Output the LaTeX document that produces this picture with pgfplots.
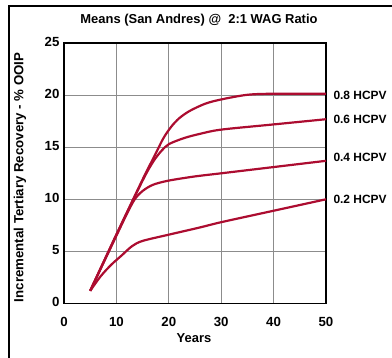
\documentclass[border=0pt]{standalone}
\usepackage{fontspec}
\setmainfont{Liberation Sans}
\usepackage{pgfplots}
\pgfplotsset{compat=1.18}
\definecolor{curve}{RGB}{172,12,48}
\definecolor{gridc}{RGB}{140,140,140}
\begin{document}
\begin{tikzpicture}[font=\fontsize{13}{15}\selectfont\bfseries]
\useasboundingbox (-64bp,-54bp) rectangle (328bp,303.3bp);
\draw[line width=1.2bp] (-55bp,-60bp) -- (-55bp,297.3bp) -- (335bp,297.3bp);
\begin{axis}[
  scale only axis, width=262bp, height=260bp,
  xmin=0, xmax=50, ymin=0, ymax=25,
  xtick={0,10,20,30,40,50}, ytick={0,5,10,15,20,25},
  grid=major, major grid style={gridc, line width=0.8bp},
  major tick length=0pt,
  axis line style={black, line width=1.6bp},
  /pgf/number format/assume math mode=true,
  tick label style={font=\fontsize{13.3}{15}\selectfont\bfseries},
  xticklabel style={anchor=base, yshift=-23bp},
  yticklabel style={anchor=east, xshift=-1bp, yshift=1.5bp},
  clip=false,
]
\addplot[curve, line width=2.2bp, smooth] coordinates {
 (5,1.2) (7,2.6) (9,3.7) (11,4.6) (13,5.5) (15,6.0) (20,6.6) (26,7.3) (30,7.8) (40,8.9) (50,10.0)};
\addplot[curve, line width=2.2bp, smooth] coordinates {
 (5,1.2) (10,6.5) (12,8.6) (13.5,10) (15,10.8) (17,11.4) (20,11.8) (25,12.2) (30,12.5) (40,13.1) (50,13.7)};
\addplot[curve, line width=2.2bp, smooth] coordinates {
 (5,1.2) (10,6.6) (15,11.8) (17,13.6) (18.5,14.6) (20,15.3) (23,15.9) (26,16.3) (30,16.7) (40,17.2) (50,17.7)};
\addplot[curve, line width=2.2bp, smooth] coordinates {
 (5,1.2) (10,6.6) (15,11.9) (17.5,14.4) (19,15.9) (20.5,17.0) (22,17.8) (24,18.5) (27,19.2) (30,19.6) (35,20.05) (40,20.15) (50,20.15)};
\node[font=\fontsize{12}{14}\selectfont\bfseries, anchor=west, xshift=4bp, yshift=-2bp] at (axis cs:50,20.15) {0.8 HCPV};
\node[font=\fontsize{12}{14}\selectfont\bfseries, anchor=west, xshift=4bp] at (axis cs:50,17.7) {0.6 HCPV};
\node[font=\fontsize{12}{14}\selectfont\bfseries, anchor=west, xshift=4bp, yshift=3bp] at (axis cs:50,13.7) {0.4 HCPV};
\node[font=\fontsize{12}{14}\selectfont\bfseries, anchor=west, xshift=4bp] at (axis cs:50,10.0) {0.2 HCPV};
\end{axis}
\node at (135bp,283bp) {Means (San Andres) @\ \ 2:1 WAG Ratio};
\node[rotate=90, font=\fontsize{13.3}{15}\selectfont\bfseries] at (-44bp,126bp) {Incremental Tertiary Recovery - \% OOIP};
\node at (130bp,-35bp) {Years};
\end{tikzpicture}
\end{document}
